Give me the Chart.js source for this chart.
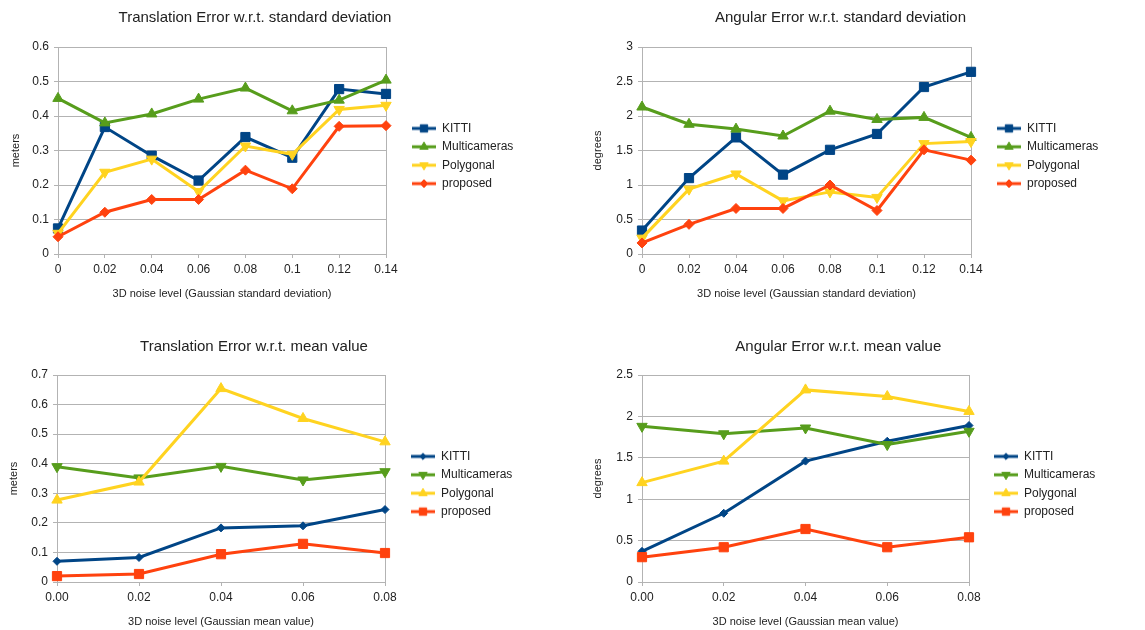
<!DOCTYPE html>
<html>
<head>
<meta charset="utf-8">
<script src="https://cdn.jsdelivr.net/npm/chart.js@4.4.0/dist/chart.umd.min.js"></script>
<style>
  body { margin: 0; background: #fff; }
  .panel { position: absolute; }
</style>
</head>
<body>
<div class="panel" style="left:0;top:0"><canvas id="c1" width="572" height="315"></canvas></div>
<div class="panel" style="left:575px;top:0"><canvas id="c2" width="570" height="315"></canvas></div>
<div class="panel" style="left:0;top:320px"><canvas id="c3" width="572" height="310"></canvas></div>
<div class="panel" style="left:575px;top:320px"><canvas id="c4" width="570" height="310"></canvas></div>
<script>
// series / categories
const seriesNames = ['KITTI', 'Multicameras', 'Polygonal', 'proposed'];
const stdLevels = ['0', '0.02', '0.04', '0.06', '0.08', '0.1', '0.12', '0.14'];
const meanLevels = ['0.00', '0.02', '0.04', '0.06', '0.08'];

// Translation error vs std deviation (meters)
const kittiTransStd = [0.074, 0.368, 0.285, 0.213, 0.339, 0.279, 0.478, 0.464];
const multiTransStd = [0.451, 0.380, 0.406, 0.449, 0.481, 0.415, 0.446, 0.504];
const polyTransStd = [0.060, 0.237, 0.275, 0.181, 0.313, 0.289, 0.419, 0.431];
const propTransStd = [0.050, 0.121, 0.158, 0.158, 0.243, 0.189, 0.370, 0.372];

// Angular error vs std deviation (degrees)
const kittiAngStd = [0.34, 1.10, 1.69, 1.15, 1.51, 1.74, 2.42, 2.64];
const multiAngStd = [2.13, 1.88, 1.81, 1.71, 2.07, 1.95, 1.98, 1.69];
const polyAngStd = [0.23, 0.94, 1.16, 0.77, 0.90, 0.82, 1.60, 1.63];
const propAngStd = [0.16, 0.43, 0.66, 0.66, 1.00, 0.63, 1.51, 1.36];

// Translation error vs mean value (meters)
const kittiTransMean = [0.070, 0.083, 0.183, 0.190, 0.245];
const multiTransMean = [0.390, 0.352, 0.391, 0.345, 0.373];
const polyTransMean = [0.277, 0.338, 0.654, 0.553, 0.474];
const propTransMean = [0.020, 0.027, 0.094, 0.129, 0.098];

// Angular error vs mean value (degrees)
const kittiAngMean = [0.37, 0.83, 1.46, 1.70, 1.89];
const multiAngMean = [1.88, 1.79, 1.86, 1.66, 1.82];
const polyAngMean = [1.20, 1.46, 2.32, 2.24, 2.06];
const propAngMean = [0.30, 0.42, 0.64, 0.42, 0.54];

const colors = ['#004586', '#579d1c', '#ffd320', '#ff420e'];
const gridColor = '#b3b3b3';
const textColor = '#222';
const fontFamily = "'Liberation Sans', Arial, sans-serif";

// marker sets (top row / bottom row use different symbols)
const stdMarkers = [
  { style: 'rect', rot: 0, r: 6.5 },
  { style: 'triangle', rot: 0, r: 6 },
  { style: 'triangle', rot: 180, r: 6 },
  { style: 'rectRot', rot: 0, r: 5 }
];
const meanMarkers = [
  { style: 'rectRot', rot: 0, r: 4 },
  { style: 'triangle', rot: 180, r: 6 },
  { style: 'triangle', rot: 0, r: 6 },
  { style: 'rect', rot: 0, r: 6.5 }
];

Chart.defaults.font.family = fontFamily;
Chart.defaults.color = textColor;

const legendPad = 6.4;
const legendFont = '12px ' + fontFamily;

function measure(text, font) {
  const ctx = document.createElement('canvas').getContext('2d');
  ctx.font = font;
  return ctx.measureText(text).width;
}

// small line+marker image used as legend symbol
function legendSymbol(color, m) {
  const c = document.createElement('canvas');
  c.width = 24; c.height = 14;
  const ctx = c.getContext('2d');
  ctx.strokeStyle = color;
  ctx.fillStyle = color;
  ctx.lineWidth = 3;
  ctx.beginPath();
  ctx.moveTo(0, 7);
  ctx.lineTo(24, 7);
  ctx.stroke();
  ctx.lineWidth = 1;
  Chart.helpers.drawPoint(ctx, { pointStyle: m.style, rotation: m.rot, radius: m.r * 0.8, borderWidth: 1 }, 12, 7);
  return c;
}

function makeChart(id, cfg) {
  const datasets = cfg.series.map((vals, i) => ({
    label: seriesNames[i],
    data: vals,
    borderColor: colors[i],
    backgroundColor: colors[i],
    borderWidth: 3,
    pointStyle: cfg.markers[i].style,
    pointRotation: cfg.markers[i].rot,
    pointRadius: cfg.markers[i].r,
    pointBorderWidth: 1,
    tension: 0,
    order: 3 - i
  }));
  const symbols = cfg.markers.map((m, i) => legendSymbol(colors[i], m));

  // legend box: left edge and width (Chart.js adds ~10px over the item width)
  const legendLeft = cfg.legendX - legendPad;
  const legendW = legendPad + 24 + 6 + measure('Multicameras', legendFont) + 10;
  const padRight = cfg.w - legendLeft - legendW;
  // shift left padding so the title centres where the original does
  const padLeft = 2 * cfg.titleX - (cfg.w - padRight);

  new Chart(document.getElementById(id), {
    type: 'line',
    data: { labels: cfg.labels, datasets: datasets },
    options: {
      responsive: false,
      animation: false,
      events: [],
      layout: { padding: { left: padLeft, top: 0, bottom: 0, right: padRight } },
      plugins: {
        title: {
          display: true,
          text: cfg.title,
          color: textColor,
          font: { size: 15, weight: 'normal' },
          padding: { top: cfg.titleY - 9, bottom: cfg.area.t - cfg.titleY - 9 }
        },
        legend: {
          position: 'right',
          fullSize: false,
          maxWidth: 300,
          title: { display: true, text: ' ', font: { size: 1 }, padding: { top: 0, bottom: 9.8 } },
          labels: {
            usePointStyle: true,
            pointStyleWidth: 24,
            padding: legendPad,
            color: textColor,
            font: { size: 12 },
            generateLabels: function (chart) {
              const items = Chart.defaults.plugins.legend.labels.generateLabels(chart);
              items.sort((a, b) => a.datasetIndex - b.datasetIndex);
              items.forEach(it => { it.pointStyle = symbols[it.datasetIndex]; it.rotation = 0; });
              return items;
            }
          }
        },
        tooltip: { enabled: false }
      },
      scales: {
        x: {
          type: 'category',
          offset: false,
          grid: { drawOnChartArea: false, offset: false, color: gridColor, tickLength: 4 },
          border: { color: gridColor },
          ticks: { padding: 4, color: textColor, font: { size: 12 }, maxRotation: 0, autoSkip: false },
          title: {
            display: true,
            text: cfg.xTitle,
            color: textColor,
            font: { size: 11 },
            padding: { top: 0, bottom: cfg.h - cfg.xTitleY - 6.6 }
          },
          afterFit: function (scale) { scale.height = cfg.h - cfg.area.b; }
        },
        y: {
          min: 0,
          max: cfg.yMax,
          grid: { color: gridColor, tickLength: 4 },
          border: { color: gridColor },
          ticks: {
            stepSize: cfg.yStep,
            padding: 5,
            color: textColor,
            font: { size: 12 },
            callback: v => String(+v.toFixed(2))
          },
          title: {
            display: true,
            text: cfg.yTitle,
            color: textColor,
            font: { size: 11 },
            padding: { top: cfg.yTitleX - padLeft - 6.6, bottom: 0 }
          },
          afterFit: function (scale) { scale.width = cfg.area.l - padLeft; }
        },
        yRight: {
          type: 'linear',
          position: 'right',
          display: true,
          min: 0,
          max: 1,
          grid: { display: false },
          ticks: { display: false },
          border: { display: true, color: gridColor },
          afterFit: function (scale) { scale.width = legendLeft - cfg.area.r; }
        }
      }
    }
  });
}

const stdTitleX = '3D noise level (Gaussian standard deviation)';
const meanTitleX = '3D noise level (Gaussian mean value)';

makeChart('c1', {
  title: 'Translation Error w.r.t. standard deviation', yTitle: 'meters', xTitle: stdTitleX,
  labels: stdLevels, series: [kittiTransStd, multiTransStd, polyTransStd, propTransStd],
  markers: stdMarkers, yMax: 0.6, yStep: 0.1,
  w: 572, h: 315, area: { l: 58, r: 386, t: 47, b: 254 },
  titleX: 255, titleY: 18, yTitleX: 15.5, xTitleY: 294, legendX: 412
});

makeChart('c2', {
  title: 'Angular Error w.r.t. standard deviation', yTitle: 'degrees', xTitle: stdTitleX,
  labels: stdLevels, series: [kittiAngStd, multiAngStd, polyAngStd, propAngStd],
  markers: stdMarkers, yMax: 3, yStep: 0.5,
  w: 570, h: 315, area: { l: 67, r: 396, t: 47, b: 254 },
  titleX: 265.5, titleY: 18, yTitleX: 23, xTitleY: 294, legendX: 422
});

makeChart('c3', {
  title: 'Translation Error w.r.t. mean value', yTitle: 'meters', xTitle: meanTitleX,
  labels: meanLevels, series: [kittiTransMean, multiTransMean, polyTransMean, propTransMean],
  markers: meanMarkers, yMax: 0.7, yStep: 0.1,
  w: 572, h: 310, area: { l: 57, r: 385, t: 55, b: 262 },
  titleX: 254, titleY: 26.7, yTitleX: 13.5, xTitleY: 301.7, legendX: 411
});

makeChart('c4', {
  title: 'Angular Error w.r.t. mean value', yTitle: 'degrees', xTitle: meanTitleX,
  labels: meanLevels, series: [kittiAngMean, multiAngMean, polyAngMean, propAngMean],
  markers: meanMarkers, yMax: 2.5, yStep: 0.5,
  w: 570, h: 310, area: { l: 67, r: 394, t: 55, b: 262 },
  titleX: 263.3, titleY: 26.7, yTitleX: 22.5, xTitleY: 301.7, legendX: 419
});
</script>
</body>
</html>
